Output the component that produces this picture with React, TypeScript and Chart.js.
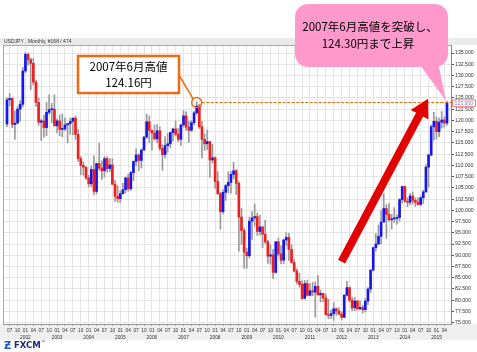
import React, { useEffect, useRef } from "react";
import { Chart, registerables } from "chart.js";

Chart.register(...registerables);

const W = 477;
const H = 352;

const START_YEAR = 2001;
const START_MONTH = 6; // first bar: June 2001
const TITLE = "USDJPY , Monthly, #168 / 474";

// Monthly OHLC, Jun 2001 .. May 2015
const opens = [
  119.2, 124.6, 124.9, 119.1, 119.4, 122.5, 123.6,
  131.0, 134.7, 133.5, 132.7, 128.5, 124.0, 119.6, 119.9, 118.4, 121.8, 122.4, 122.5,
  118.8, 119.9, 118.0, 118.1, 119.0, 119.3, 119.8, 120.5, 116.9, 111.5, 110.0, 109.6,
  107.2, 105.9, 109.1, 104.2, 110.4, 109.4, 108.8, 111.5, 109.3, 110.1, 105.8, 103.1,
  102.6, 103.7, 104.6, 107.2, 104.8, 108.4, 110.9, 112.3, 111.1, 113.4, 116.3, 119.7,
  117.8, 117.2, 115.9, 117.7, 113.8, 112.4, 114.4, 114.8, 117.3, 118.1, 116.9, 115.8,
  119.0, 121.0, 118.5, 117.8, 119.5, 121.7, 123.2, 118.6, 115.8, 114.8, 115.3, 111.2,
  111.7, 106.4, 103.7, 99.7, 104.0, 105.5, 106.2, 108.0, 108.8, 106.0, 98.5, 95.5,
  90.7, 89.9, 97.6, 98.3, 98.6, 95.3, 96.3, 94.7, 93.0, 89.8, 90.1, 86.2,
  93.0, 90.3, 88.9, 93.4, 94.0, 91.3, 88.4, 86.5, 84.2, 83.5, 80.4, 83.7,
  81.1, 82.1, 81.8, 83.1, 81.2, 81.5, 80.5, 76.8, 76.6, 77.0, 78.1, 77.6,
  76.9, 76.2, 81.1, 82.8, 80.0, 78.3, 79.8, 78.1, 78.4, 77.9, 79.8, 82.5,
  86.7, 91.7, 92.5, 94.2, 97.4, 100.4, 99.1, 97.9, 98.1, 98.2, 98.4, 102.4,
  105.3, 102.0, 101.8, 103.2, 102.2, 101.8, 101.3, 102.8, 104.1, 109.6, 112.3, 118.6,
  119.8, 117.5, 119.6, 120.1, 119.4,
];
const highs = [
  125.0, 126.0, 125.0, 122.1, 123.1, 124.4, 131.8,
  135.15, 135.0, 133.9, 133.8, 129.0, 125.0, 120.3, 121.2, 124.0, 125.7, 123.8, 125.7,
  120.3, 121.2, 121.4, 120.6, 119.3, 120.5, 120.6, 121.0, 118.0, 112.0, 110.8, 109.7,
  107.8, 109.8, 112.1, 110.5, 114.9, 111.0, 112.0, 111.9, 111.5, 111.5, 106.7, 105.5,
  104.4, 106.0, 107.4, 108.0, 108.7, 111.0, 113.7, 112.6, 113.7, 116.4, 121.4, 121.0,
  117.9, 119.0, 119.1, 118.6, 114.6, 116.4, 117.2, 117.4, 118.3, 119.9, 118.2, 119.2,
  122.2, 121.9, 119.8, 120.0, 122.0, 124.16, 123.6, 119.8, 117.0, 117.9, 115.3, 114.7,
  111.9, 108.6, 104.0, 104.6, 105.8, 108.6, 108.6, 110.7, 109.1, 106.4, 100.5, 96.0,
  91.6, 98.5, 99.7, 101.4, 99.4, 98.9, 96.5, 97.8, 93.3, 92.3, 91.3, 93.1,
  93.8, 92.1, 93.6, 95.0, 94.9, 92.3, 89.1, 87.0, 86.0, 84.3, 84.4, 84.5,
  83.7, 84.0, 84.1, 85.5, 82.2, 81.6, 81.4, 80.2, 77.8, 79.5, 78.3, 78.3,
  77.4, 81.3, 84.2, 83.0, 80.6, 80.6, 80.0, 79.8, 78.9, 80.4, 82.8, 86.8,
  91.8, 94.8, 96.7, 99.9, 103.7, 101.3, 101.5, 99.1, 100.6, 99.0, 102.6, 105.4,
  105.4, 102.8, 103.8, 104.1, 102.8, 102.8, 103.2, 104.5, 110.1, 112.5, 119.0, 121.8,
  120.8, 120.5, 122.0, 120.8, 124.3,
];
const lows = [
  118.6, 123.2, 118.4, 115.8, 119.3, 119.8, 123.0,
  130.6, 132.3, 126.8, 127.9, 123.1, 118.9, 115.5, 116.3, 116.6, 121.4, 119.5, 118.7,
  117.2, 116.6, 116.3, 117.7, 115.0, 116.9, 116.8, 115.8, 110.9, 107.9, 107.8, 106.8,
  105.2, 105.3, 103.4, 103.7, 108.9, 106.9, 107.4, 108.5, 108.6, 105.7, 102.0, 101.8,
  101.7, 103.6, 103.9, 104.2, 104.4, 106.6, 110.0, 108.8, 109.4, 113.3, 116.0, 115.0,
  113.4, 115.6, 115.0, 113.3, 108.9, 111.6, 112.9, 113.9, 115.4, 116.6, 115.3, 114.4,
  118.5, 117.8, 115.1, 117.6, 119.0, 121.3, 118.2, 111.6, 113.3, 113.5, 107.3, 110.5,
  104.9, 103.5, 95.8, 99.2, 102.2, 103.9, 103.8, 107.0, 103.5, 90.9, 92.4, 87.1,
  87.1, 89.4, 93.5, 96.5, 94.4, 94.5, 91.7, 92.6, 88.2, 88.0, 84.8, 86.0,
  89.8, 88.1, 88.1, 92.2, 88.8, 88.2, 86.3, 83.6, 82.9, 80.2, 80.3, 80.9,
  81.0, 81.0, 76.2, 81.1, 79.6, 79.7, 76.7, 75.9, 75.9, 75.5, 76.6, 76.8,
  75.6, 76.1, 80.9, 79.6, 77.7, 77.7, 77.8, 77.9, 77.1, 77.4, 79.0, 81.7,
  86.5, 90.9, 92.4, 92.6, 97.3, 93.8, 97.6, 95.8, 97.3, 96.9, 97.6, 101.6,
  101.8, 100.8, 101.2, 101.4, 100.8, 101.2, 101.1, 101.5, 104.0, 105.2, 112.1, 115.6,
  115.9, 116.4, 118.3, 118.5, 118.9,
];
const closes = [
  124.6, 124.9, 119.1, 119.4, 122.5, 123.6, 131.0,
  134.7, 133.5, 132.7, 128.5, 124.0, 119.6, 119.9, 118.4, 121.8, 122.4, 122.5, 118.8,
  119.9, 118.0, 118.1, 119.0, 119.3, 119.8, 120.5, 116.9, 111.5, 110.0, 109.6, 107.2,
  105.9, 109.1, 104.2, 110.4, 109.4, 108.8, 111.5, 109.3, 110.1, 105.8, 103.1, 102.6,
  103.7, 104.6, 107.2, 104.8, 108.4, 110.9, 112.3, 111.1, 113.4, 116.3, 119.7, 117.8,
  117.2, 115.9, 117.7, 113.8, 112.4, 114.4, 114.8, 117.3, 118.1, 116.9, 115.8, 119.0,
  121.0, 118.5, 117.8, 119.5, 121.7, 123.2, 118.6, 115.8, 114.8, 115.3, 111.2, 111.7,
  106.4, 103.7, 99.7, 104.0, 105.5, 106.2, 108.0, 108.8, 106.0, 98.5, 95.5, 90.7,
  89.9, 97.6, 98.3, 98.6, 95.3, 96.3, 94.7, 93.0, 89.8, 90.1, 86.2, 93.0,
  90.3, 88.9, 93.4, 94.0, 91.3, 88.4, 86.5, 84.2, 83.5, 80.4, 83.7, 81.1,
  82.1, 81.8, 83.1, 81.2, 81.5, 80.5, 76.8, 76.6, 77.0, 78.1, 77.6, 76.9,
  76.2, 81.1, 82.8, 80.0, 78.3, 79.8, 78.1, 78.4, 77.9, 79.8, 82.5, 86.7,
  91.7, 92.5, 94.2, 97.4, 100.4, 99.1, 97.9, 98.1, 98.2, 98.4, 102.4, 105.3,
  102.0, 101.8, 103.2, 102.2, 101.8, 101.3, 102.8, 104.1, 109.6, 112.3, 118.6, 119.8,
  117.5, 119.6, 120.1, 119.4, 123.9,
];

// x-axis ticks every quarter (Jul, Oct, Jan, Apr) as bar indices
const xTickIndices = [
  1, 4, 7, 10, 13, 16, 19, 22, 25, 28, 31, 34, 37, 40, 43, 46, 49, 52, 55, 58,
  61, 64, 67, 70, 73, 76, 79, 82, 85, 88, 91, 94, 97, 100, 103, 106, 109, 112,
  115, 118, 121, 124, 127, 130, 133, 136, 139, 142, 145, 148, 151, 154, 157, 160,
  163, 166,
];
const yTickValues = [
  75, 77.5, 80, 82.5, 85, 87.5, 90, 92.5, 95, 97.5, 100, 102.5, 105, 107.5, 110,
  112.5, 115, 117.5, 120, 122.5, 125, 127.5, 130, 132.5, 135,
];

const PEAK_INDEX = 72; // June 2007
const PEAK_PRICE = 124.16;
const LAST_PRICE = 123.9;
const ARROW_FROM = { x: 127, y: 88.6 };
const ARROW_TO = { x: 159.8, y: 124.8 };

const UP = "#1515f0";
const DOWN = "#f01e1e";
const WICK = "#9a9a9a";
const ORANGE = "#f06a14";
const PINK = "#ff99cc";
const RED = "#e30000";
const JP = "'Noto Sans CJK JP', 'Noto Sans CJK SC', sans-serif";
const SMALL = "'Liberation Sans', Arial, sans-serif";

function roundRectPath(ctx: CanvasRenderingContext2D, x: number, y: number, w: number, h: number, r: number) {
  ctx.moveTo(x + r, y);
  ctx.lineTo(x + w - r, y);
  ctx.arcTo(x + w, y, x + w, y + r, r);
  ctx.lineTo(x + w, y + h - r);
  ctx.arcTo(x + w, y + h, x + w - r, y + h, r);
  ctx.lineTo(x + r, y + h);
  ctx.arcTo(x, y + h, x, y + h - r, r);
  ctx.lineTo(x, y + r);
  ctx.arcTo(x, y, x + r, y, r);
  ctx.closePath();
}

const decor = {
  id: "decor",
  beforeDraw(chart: any) {
    const ctx = chart.ctx as CanvasRenderingContext2D;
    ctx.save();
    ctx.fillStyle = "#ffffff";
    ctx.fillRect(0, 0, W, H);
    ctx.fillStyle = "#ebebeb";
    ctx.fillRect(0, 38, W, 7);
    ctx.fillStyle = "#efefef";
    ctx.fillRect(0, chart.chartArea.bottom, W, 16);
    ctx.restore();
  },
  afterDraw(chart: any) {
    const ctx = chart.ctx as CanvasRenderingContext2D;
    const ca = chart.chartArea;
    const xs = chart.scales.x;
    const ys = chart.scales.y;
    ctx.save();

    // plot frame (left / top)
    ctx.strokeStyle = "#a8a8a8";
    ctx.lineWidth = 1;
    ctx.beginPath();
    ctx.moveTo(ca.left + 0.5, ca.top);
    ctx.lineTo(ca.left + 0.5, ca.bottom);
    ctx.moveTo(ca.left, ca.top + 0.5);
    ctx.lineTo(ca.right, ca.top + 0.5);
    ctx.stroke();

    // title
    ctx.fillStyle = "#333";
    ctx.font = `5px ${SMALL}`;
    ctx.textAlign = "left";
    ctx.textBaseline = "middle";
    ctx.fillText(TITLE, 4, 42);

    // peak marker + dashed line
    const cx = xs.getPixelForValue(PEAK_INDEX);
    const cy = Math.round(ys.getPixelForValue(PEAK_PRICE)) + 0.5;
    ctx.strokeStyle = ORANGE;
    ctx.lineWidth = 1;
    ctx.setLineDash([3, 1.5]);
    ctx.beginPath();
    ctx.moveTo(cx + 5, cy);
    ctx.lineTo(ca.right, cy);
    ctx.stroke();
    ctx.setLineDash([]);
    ctx.lineWidth = 1.5;
    ctx.beginPath();
    ctx.arc(cx, cy, 5, 0, Math.PI * 2);
    ctx.stroke();
    ctx.beginPath();
    ctx.moveTo(179, 75);
    ctx.lineTo(cx - 3.6, cy - 3.6);
    ctx.stroke();

    // orange callout box
    ctx.fillStyle = "#ffffff";
    ctx.fillRect(78, 56, 101, 37);
    ctx.lineWidth = 2.5;
    ctx.strokeRect(78, 56, 101, 37);
    ctx.fillStyle = "#000";
    ctx.font = `11.5px ${JP}`;
    ctx.textAlign = "center";
    ctx.textBaseline = "middle";
    ctx.fillText("2007年6月高値", 128.5, 67);
    ctx.fillText("124.16円", 128.5, 83);

    // red arrow
    const ax = xs.getPixelForValue(ARROW_FROM.x);
    const ay = ys.getPixelForValue(ARROW_FROM.y);
    const bx = xs.getPixelForValue(ARROW_TO.x);
    const by = ys.getPixelForValue(ARROW_TO.y);
    const len = Math.hypot(bx - ax, by - ay);
    const ux = (bx - ax) / len;
    const uy = (by - ay) / len;
    const nx = -uy;
    const ny = ux;
    const sw = 4;
    const hw = 10;
    const hl = 18;
    const kx = bx - ux * hl;
    const ky = by - uy * hl;
    ctx.fillStyle = RED;
    ctx.beginPath();
    ctx.moveTo(ax + nx * sw, ay + ny * sw);
    ctx.lineTo(kx + nx * sw, ky + ny * sw);
    ctx.lineTo(kx + nx * hw, ky + ny * hw);
    ctx.lineTo(bx, by);
    ctx.lineTo(kx - nx * hw, ky - ny * hw);
    ctx.lineTo(kx - nx * sw, ky - ny * sw);
    ctx.lineTo(ax - nx * sw, ay - ny * sw);
    ctx.closePath();
    ctx.fill();

    // pink speech bubble
    const tipX = xs.getPixelForValue(167) - 1;
    const tipY = ys.getPixelForValue(124.3);
    ctx.fillStyle = PINK;
    ctx.beginPath();
    roundRectPath(ctx, 295, 4, 153, 63, 13);
    ctx.fill();
    ctx.beginPath();
    ctx.moveTo(418, 62);
    ctx.lineTo(438, 62);
    ctx.lineTo(tipX, tipY);
    ctx.closePath();
    ctx.fill();
    ctx.fillStyle = "#000";
    ctx.font = `11.5px ${JP}`;
    ctx.fillText("2007年6月高値を突破し、", 370, 27);
    ctx.fillText("124.30円まで上昇", 368, 43.5);

    // current price tag on the axis
    const py = ys.getPixelForValue(LAST_PRICE);
    ctx.fillStyle = "#ffffff";
    ctx.fillRect(452.5, py - 3, 23, 6.5);
    ctx.strokeStyle = "#f08080";
    ctx.lineWidth = 1;
    ctx.strokeRect(452.5, py - 3, 23, 6.5);
    ctx.fillStyle = "#6f86cf";
    ctx.font = `5.2px ${SMALL}`;
    ctx.textAlign = "left";
    ctx.fillText(LAST_PRICE.toFixed(3), 454.5, py + 0.3);

    // FXCM logo
    ctx.fillStyle = "#2459cc";
    ctx.font = `bold 10px 'DejaVu Sans', sans-serif`;
    ctx.textAlign = "left";
    ctx.fillText("Ƶ", 4, 346);
    ctx.fillStyle = "#1c2a78";
    ctx.font = `bold 8.5px 'DejaVu Sans', sans-serif`;
    ctx.fillText("FXCM", 14, 346);
    ctx.font = `4px ${SMALL}`;
    ctx.fillText("™", 41, 342);

    ctx.restore();
  },
};

export default function App() {
  const ref = useRef<HTMLCanvasElement | null>(null);

  useEffect(() => {
    const canvas = ref.current;
    if (!canvas) return;

    const bodyData = opens.map((o, i) => ({ x: i, y: [o, closes[i]] }));
    const wickData = highs.map((h, i) => ({ x: i, y: [lows[i], h] }));
    const bodyColors = closes.map((c, i) => (c >= opens[i] ? UP : DOWN));

    const chart = new Chart(canvas, {
      type: "bar",
      data: {
        datasets: [
          {
            label: "body",
            data: bodyData as any,
            backgroundColor: bodyColors,
            borderWidth: 0,
            barThickness: 2,
            minBarLength: 1,
            grouped: false,
            order: 0,
          } as any,
          {
            label: "wick",
            data: wickData as any,
            backgroundColor: WICK,
            borderWidth: 0,
            barThickness: 1,
            grouped: false,
            order: 1,
          } as any,
        ],
      },
      options: {
        responsive: false,
        animation: false,
        events: [],
        layout: { padding: { left: 3, right: 0, top: 45, bottom: 12 } },
        plugins: { legend: { display: false }, tooltip: { enabled: false } },
        scales: {
          x: {
            type: "linear",
            min: -1.518,
            max: 168.518,
            offset: false,
            afterBuildTicks: (s: any) => {
              s.ticks = xTickIndices.map((v) => ({ value: v }));
            },
            afterFit: (s: any) => {
              s.height = 16;
            },
            ticks: {
              autoSkip: false,
              maxRotation: 0,
              minRotation: 0,
              padding: 1,
              color: "#333",
              font: { family: SMALL, size: 4.8, lineHeight: 1.45 },
              callback: (v: any) => {
                const k = START_MONTH - 1 + Number(v);
                const m = (k % 12) + 1;
                const yr = START_YEAR + Math.floor(k / 12);
                return [String(m).padStart(2, "0"), m === 1 ? String(yr) : ""];
              },
            },
            grid: { color: "#e4e4e4", offset: false, tickLength: 2, tickColor: "#e09090" },
            border: { color: "#999" },
          },
          y: {
            type: "linear",
            position: "right",
            min: 74.711,
            max: 136.78,
            afterBuildTicks: (s: any) => {
              s.ticks = yTickValues.map((v) => ({ value: v }));
            },
            afterFit: (s: any) => {
              s.width = 26;
            },
            ticks: {
              padding: 1,
              color: "#333",
              font: { family: SMALL, size: 5.2 },
              callback: (v: any) => Number(v).toFixed(3),
            },
            grid: { color: "#e4e4e4", tickLength: 3, tickColor: "#555" },
            border: { color: "#888" },
          },
        },
      } as any,
      plugins: [decor],
    });

    return () => chart.destroy();
  }, []);

  return (
    <div style={{ position: "fixed", left: 0, top: 0, width: W, height: H }}>
      <canvas ref={ref} width={W} height={H} style={{ display: "block" }} />
    </div>
  );
}
